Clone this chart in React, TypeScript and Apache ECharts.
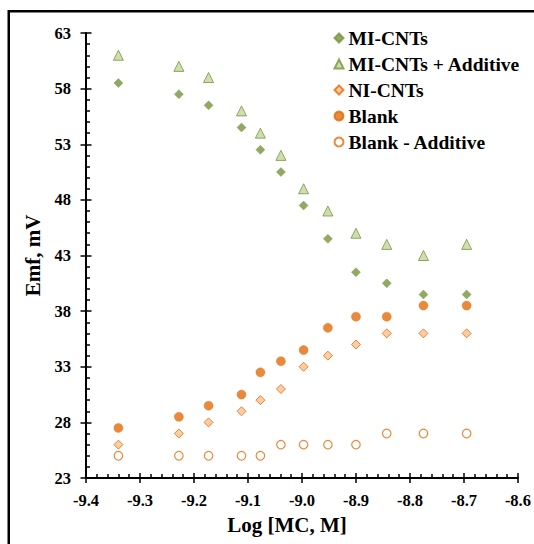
import React, { useEffect, useRef } from "react";
import * as echarts from "echarts";

const xValues = [-9.34, -9.228, -9.173, -9.112, -9.077, -9.039, -8.997, -8.952, -8.9, -8.843, -8.775, -8.695];
const miCnts = [58.5, 57.5, 56.5, 54.5, 52.5, 50.5, 47.5, 44.5, 41.5, 40.5, 39.5, 39.5];
const miCntsAdditive = [61, 60, 59, 56, 54, 52, 49, 47, 45, 44, 43, 44];
const niCnts = [26, 27, 28, 29, 30, 31, 33, 34, 35, 36, 36, 36];
const blank = [27.5, 28.5, 29.5, 30.5, 32.5, 33.5, 34.5, 36.5, 37.5, 37.5, 38.5, 38.5];
const blankAdditive = [25, 25, 25, 25, 25, 26, 26, 26, 26, 27, 27, 27];
const seriesNames = ["MI-CNTs", "MI-CNTs + Additive", "NI-CNTs", "Blank", "Blank - Additive"];

const FONT = "'Liberation Serif', 'Times New Roman', serif";

const pairs = (ys: number[]) => xValues.map((x, i) => [x, ys[i]]);

export default function App() {
  const ref = useRef<HTMLDivElement>(null);
  useEffect(() => {
    if (!ref.current) return;
    const chart = echarts.init(ref.current, undefined, { renderer: "svg" });
    const axisCommon = {
      type: "value" as const,
      splitLine: { show: false },
    };
    chart.setOption({
      animation: false,
      backgroundColor: "#fff",
      grid: { left: 86, right: 16, top: 33, bottom: 66 },
      graphic: [
        {
          type: "rect",
          silent: true,
          z: -10,
          shape: { x: 8.75, y: 11.25, width: 900, height: 900 },
          style: { fill: "none", stroke: "#000", lineWidth: 2.5 },
        },
      ],
      legend: {
        orient: "vertical",
        left: 328.5,
        top: 23,
        itemWidth: 9,
        itemHeight: 9,
        itemGap: 6,
        data: seriesNames,
        textStyle: { fontFamily: FONT, fontWeight: "bold", fontSize: 19.5, lineHeight: 19.5, color: "#000" },
      },
      xAxis: [
        {
          ...axisCommon,
          min: -9.4,
          max: -8.6,
          interval: 0.1,
          position: "bottom",
          name: "Log [MC, M]",
          nameLocation: "middle",
          nameGap: 36,
          nameTextStyle: { fontFamily: FONT, fontWeight: "bold", fontSize: 21, color: "#000", padding: [0, 30, 0, 0] },
          axisLine: { show: true, onZero: false, lineStyle: { color: "#000", width: 2 } },
          axisTick: { show: true, inside: false, length: 5, lineStyle: { color: "#000", width: 1.5 } },
          axisLabel: {
            margin: 14,
            fontFamily: FONT,
            fontWeight: "bold",
            fontSize: 16.5,
            color: "#000",
            formatter: (v: number) => v.toFixed(1),
          },
        },
        {
          ...axisCommon,
          min: -9.4,
          max: -8.6,
          interval: 0.1,
          position: "bottom",
          offset: 0,
          axisLine: { show: false, onZero: false },
          axisLabel: { show: false },
          axisTick: { show: true, inside: true, length: 5, lineStyle: { color: "#000", width: 1.5 } },
          minorTick: { show: true, splitNumber: 5, length: 4, lineStyle: { color: "#000", width: 1.5 } },
        },
      ],
      yAxis: [
        {
          ...axisCommon,
          min: 23,
          max: 63,
          interval: 5,
          position: "left",
          name: "Emf, mV",
          nameLocation: "middle",
          nameGap: 43,
          nameTextStyle: { fontFamily: FONT, fontWeight: "bold", fontSize: 21, color: "#000" },
          axisLine: { show: true, onZero: false, lineStyle: { color: "#000", width: 2 } },
          axisTick: { show: true, inside: false, length: 5.5, lineStyle: { color: "#000", width: 1.5 } },
          axisLabel: { margin: 15, fontFamily: FONT, fontWeight: "bold", fontSize: 16.5, color: "#000" },
        },
        {
          ...axisCommon,
          min: 23,
          max: 63,
          interval: 5,
          position: "left",
          offset: 0,
          axisLine: { show: false, onZero: false },
          axisLabel: { show: false },
          axisTick: { show: true, inside: true, length: 5.5, lineStyle: { color: "#000", width: 1.5 } },
          minorTick: { show: true, splitNumber: 5, length: 4, lineStyle: { color: "#000", width: 1.5 } },
        },
      ],
      series: [
        {
          name: seriesNames[0],
          type: "scatter",
          symbol: "diamond",
          symbolSize: 9,
          itemStyle: { color: "#77933C", borderColor: "#77933C", borderWidth: 0.5 },
          data: pairs(miCnts),
        },
        {
          name: seriesNames[1],
          type: "scatter",
          symbol: "triangle",
          symbolSize: 10,
          itemStyle: { color: "#C3D69B", borderColor: "#77933C", borderWidth: 1 },
          data: pairs(miCntsAdditive),
        },
        {
          name: seriesNames[2],
          type: "scatter",
          symbol: "diamond",
          symbolSize: 9,
          itemStyle: { color: "#FAC090", borderColor: "#E46C0A", borderWidth: 1 },
          data: pairs(niCnts),
        },
        {
          name: seriesNames[3],
          type: "scatter",
          symbol: "circle",
          symbolSize: 9,
          itemStyle: { color: "#E46C0A", borderColor: "#E46C0A", borderWidth: 0.5 },
          data: pairs(blank),
        },
        {
          name: seriesNames[4],
          type: "scatter",
          symbol: "circle",
          symbolSize: 8.5,
          itemStyle: { color: "#FFFFFF", borderColor: "#E46C0A", borderWidth: 1.2 },
          data: pairs(blankAdditive),
        },
      ],
    });
    return () => chart.dispose();
  }, []);
  return (
    <div
      ref={ref}
      style={{ position: "fixed", left: 0, top: 0, width: 534, height: 544 }}
    />
  );
}
